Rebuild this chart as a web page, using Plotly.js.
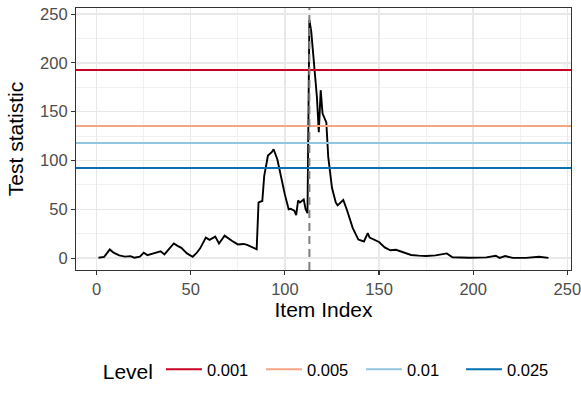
<!DOCTYPE html>
<html>
<head>
<meta charset="utf-8">
<script src="https://cdn.plot.ly/plotly-3.0.1.min.js"></script>
<style>
  html, body { margin: 0; padding: 0; background: #ffffff; }
  #chart { width: 581px; height: 411px; }
</style>
</head>
<body>
<div id="chart"></div>
<script>
  const itemIndex = [1, 4, 7, 9, 12, 15, 18, 20, 23, 25, 27, 30, 32, 34, 36, 38, 41, 43, 45, 48,
    51, 53, 55, 58, 60, 63, 65, 68, 70, 72, 75, 78, 80, 82, 85, 86, 88, 89, 91, 93,
    94, 96, 97, 100, 102, 103, 105, 106, 107, 108, 110, 111, 112, 113, 114, 115, 117, 118, 119, 120,
    122, 123, 125, 127, 128, 131, 133, 136, 139, 142, 144, 145, 147, 150, 153, 156, 159, 163, 167, 171,
    175, 180, 186, 189, 198, 207, 212, 214, 217, 221, 228, 235, 240];
  const testStat = [0.3, 1.2, 8.8, 5.5, 2.8, 1.5, 2, 0.4, 1.4, 5.5, 3, 4.8, 5.5, 7, 3.8, 8.5, 15, 12.5, 10.5, 4.8,
    1.4, 5, 10, 21, 18.6, 22, 15, 23, 20, 17.5, 14, 14.5, 13.5, 12, 9, 57, 58.5, 84, 105, 108.5,
    111.5, 101, 91, 65, 50, 50.5, 48.5, 44, 59, 57, 60, 50, 46, 244, 232, 210, 165, 129, 172, 148,
    139, 104, 72, 57, 54, 59.5, 49, 31, 19, 17, 25.5, 21, 19.5, 16.5, 11, 8, 8.5, 5.5, 3.2, 2.5,
    2.1, 2.8, 4.8, 0.8, 0.3, 0.7, 2.4, 0.2, 2.1, 0.2, 0.2, 1.4, 0.2];

  const levelNames = ["0.001", "0.005", "0.01", "0.025"];
  const levelValues = [192.6, 135.4, 117.9, 92.2];
  const levelColors = ["#ca0020", "#f4a582", "#92c5de", "#0571b0"];

  const changePoint = 113;

  const xRange = [-10.95, 251.95];
  const yRange = [-12.2, 256.2];
  const minorTicks = [25, 75, 125, 175, 225];

  const FONT = "Liberation Sans, Arial, sans-serif";

  // horizontal threshold lines run across the whole panel
  const levelTraces = levelNames.map((name, i) => ({
    type: "scatter",
    mode: "lines",
    x: xRange,
    y: [levelValues[i], levelValues[i]],
    line: { color: levelColors[i], width: 2 },
    name: name,
    showlegend: true
  }));

  const vline = {
    type: "line",
    xref: "x",
    x0: changePoint,
    x1: changePoint,
    yref: "y domain",
    y0: 0,
    y1: 1,
    line: { color: "#7f7f7f", width: 2, dash: "8px,5px" }
  };

  function axis(title, range, standoff) {
    return {
      range: range,
      title: { text: title, font: { family: FONT, size: 21, color: "#000000" }, standoff: standoff },
      tickmode: "linear",
      tick0: 0,
      dtick: 50,
      ticks: "outside",
      ticklen: 4,
      tickwidth: 1.1,
      tickcolor: "#333333",
      tickfont: { family: FONT, size: 16.5, color: "#4d4d4d" },
      ticklabeloverflow: "allow",
      showgrid: true,
      gridcolor: "#e8e8e8",
      gridwidth: 1.4,
      minor: { tickmode: "array", tickvals: minorTicks, showgrid: true, gridcolor: "#ededed", gridwidth: 0.8 },
      zeroline: false,
      showline: true,
      mirror: true,
      linecolor: "#333333",
      linewidth: 1.1
    };
  }

  Plotly.newPlot(
    "chart",
    [
      {
        type: "scatter",
        mode: "lines",
        x: itemIndex,
        y: testStat,
        line: { color: "#000000", width: 1.9 },
        showlegend: false
      }
    ].concat(levelTraces),
    {
      width: 581,
      height: 411,
      paper_bgcolor: "#ffffff",
      plot_bgcolor: "#ffffff",
      margin: { l: 76, r: 10, t: 8, b: 141, autoexpand: false },
      xaxis: axis("Item Index", xRange, 4),
      yaxis: axis("Test statistic", yRange, 10),
      shapes: [vline],
      legend: {
        orientation: "h",
        x: 0.05,
        xanchor: "left",
        y: -0.386,
        yanchor: "middle",
        itemwidth: 36,
        entrywidth: 49,
        entrywidthmode: "pixels",
        traceorder: "normal",
        title: { text: "Level", font: { family: FONT, size: 21, color: "#000000" } },
        font: { family: FONT, size: 16.5, color: "#000000" },
        bgcolor: "rgba(0,0,0,0)"
      }
    },
    { displayModeBar: false, staticPlot: true }
  );
</script>
</body>
</html>
